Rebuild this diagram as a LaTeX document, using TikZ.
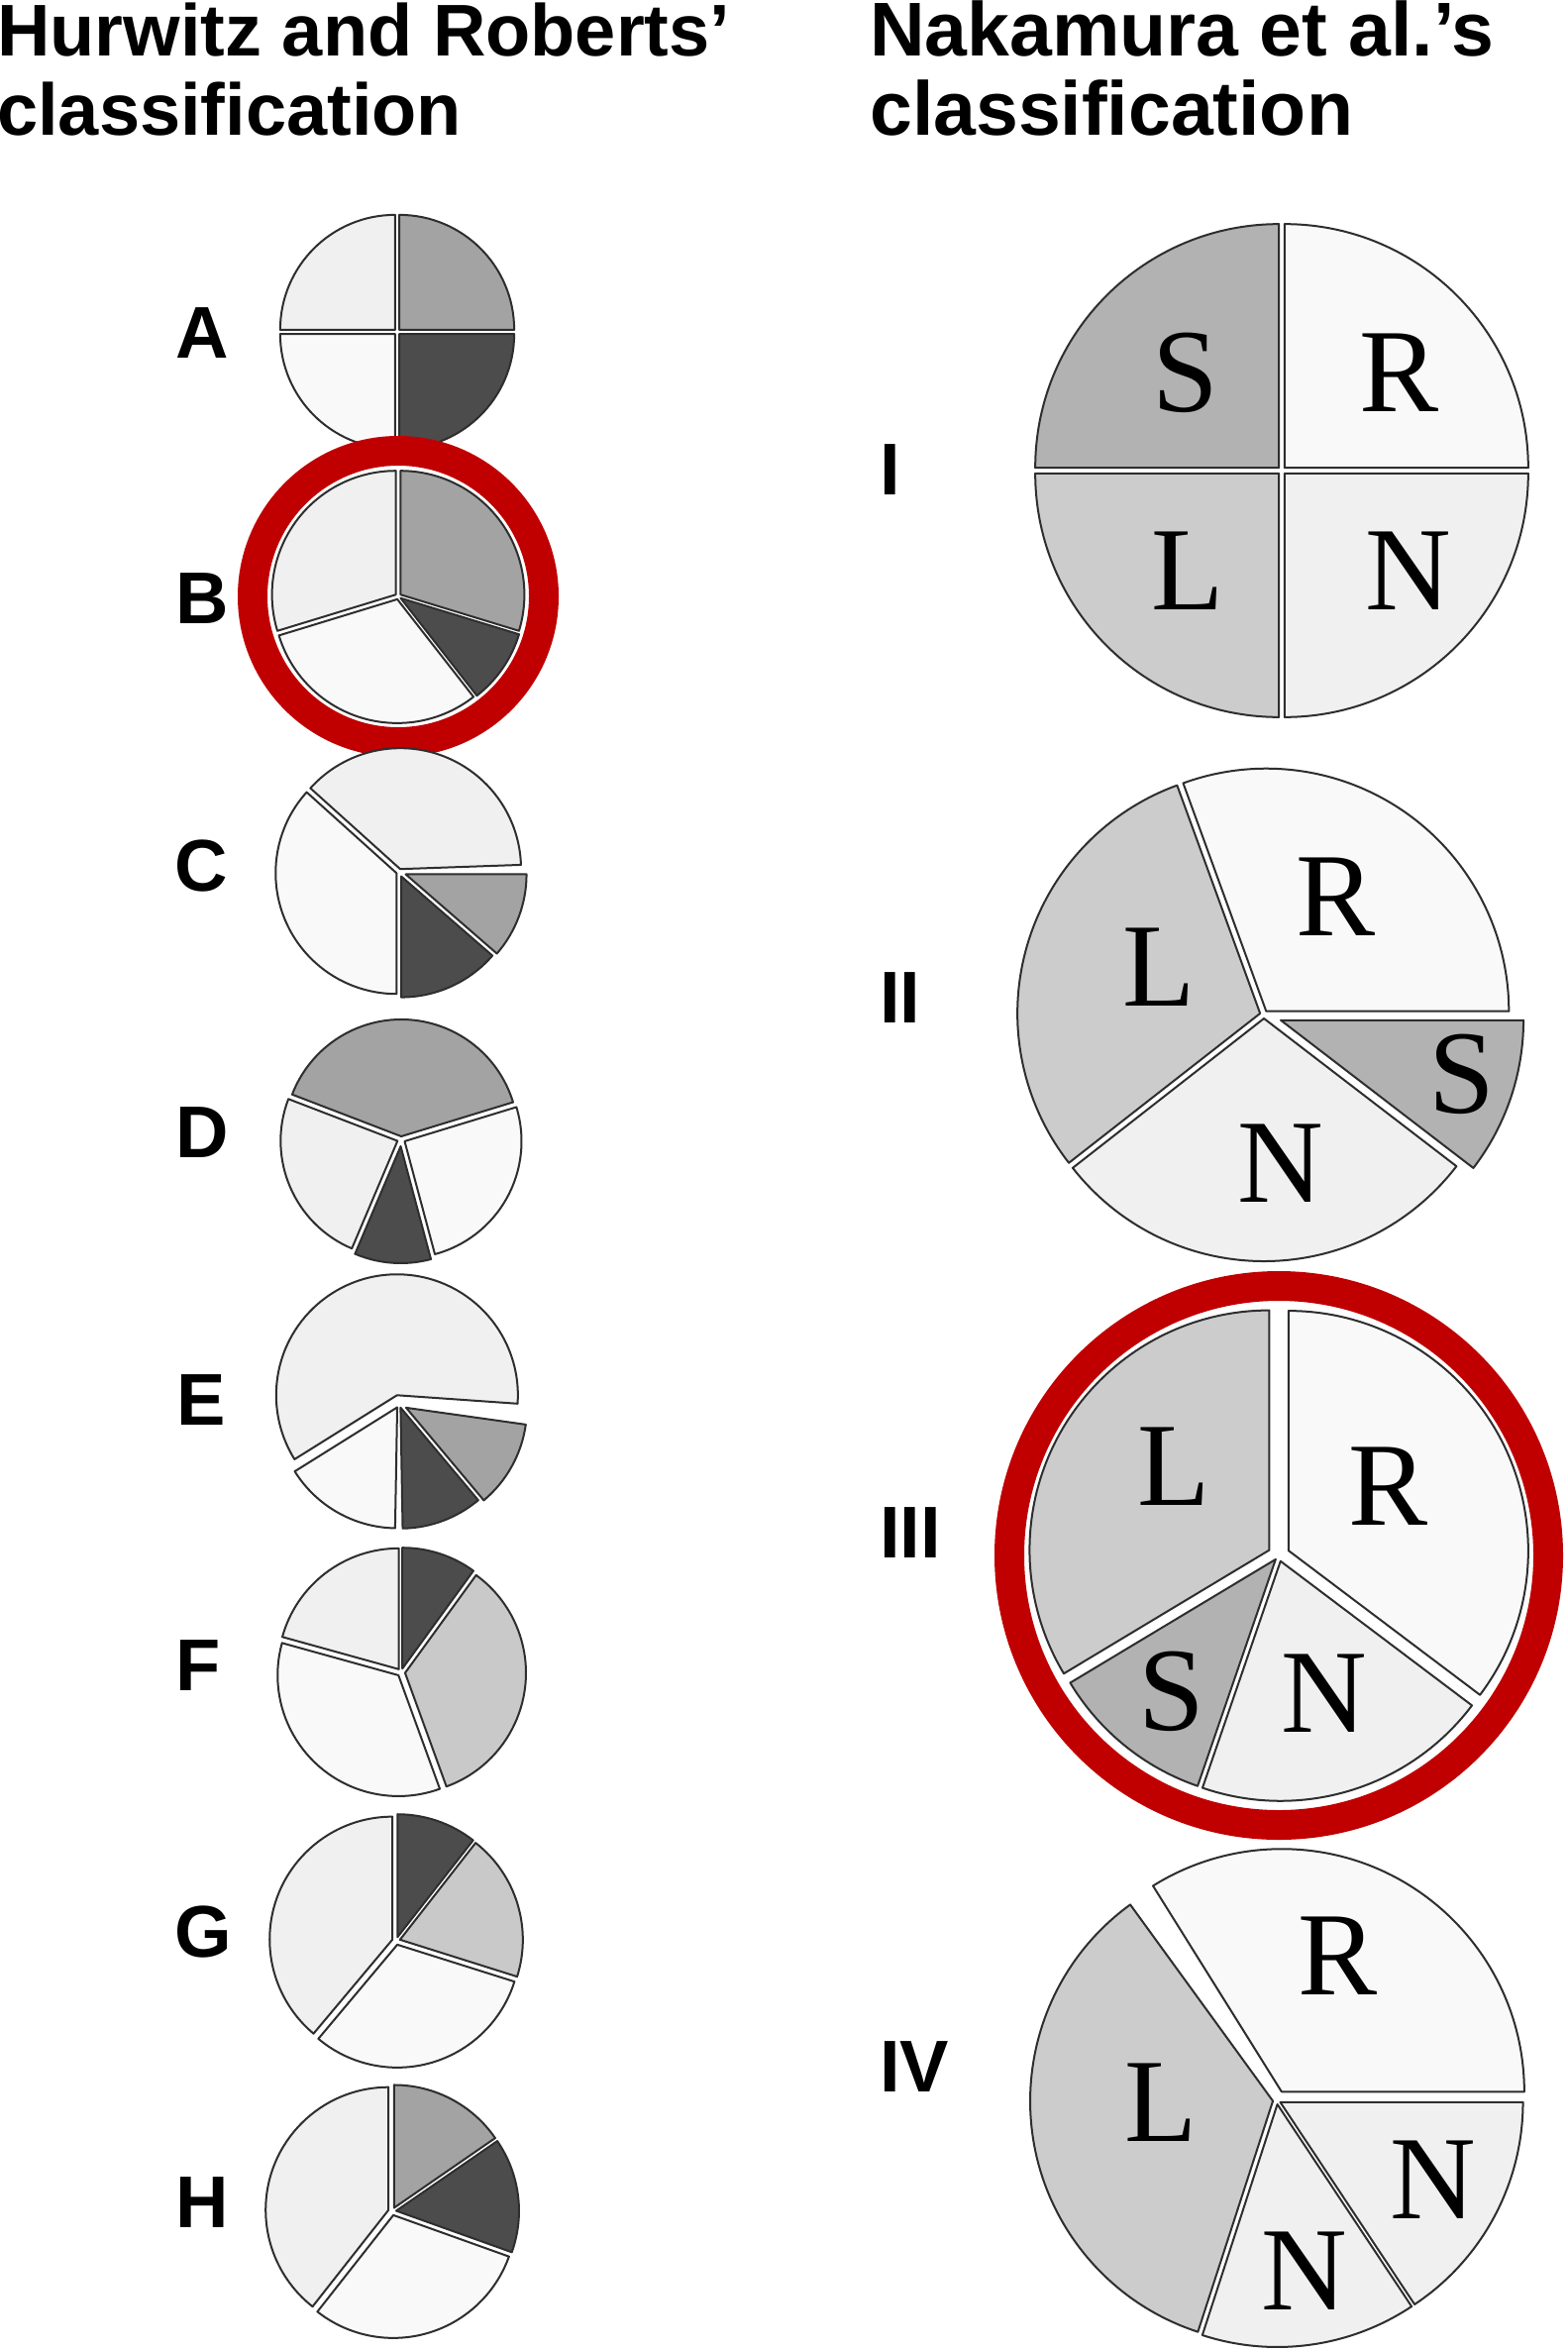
\documentclass[tikz,border=0pt]{standalone}
\usepackage{fontspec}
\setmainfont{Liberation Sans}
\newfontfamily\labelfont{Liberation Serif}
\usepackage{tikz}
\usetikzlibrary{positioning}

\definecolor{plight}{gray}{0.94}
\definecolor{pwhite}{gray}{0.975}
\definecolor{pmid}{gray}{0.64}
\definecolor{pdark}{gray}{0.30}
\definecolor{pgray}{gray}{0.79}
\definecolor{rS}{gray}{0.70}
\definecolor{rL}{gray}{0.80}
\definecolor{rR}{gray}{0.975}
\definecolor{rN}{gray}{0.94}
\definecolor{ringred}{RGB}{192,0,0}

\newcommand{\pieslice}[4][4]{%
  \draw[slice, fill=#4] ({(#2+#3)/2}:#1) -- ++(#2:\pierad)
    arc[start angle=#2, end angle=#3, radius=\pierad] -- cycle;}

\begin{document}
\begin{tikzpicture}[x=1pt, y=1pt,
    slice/.style={draw=black!82, line width=2pt, line join=round},
    ring/.style={draw=ringred, line width=30pt},
    heading/.style={anchor=base west, inner sep=0pt,
      font=\fontsize{74}{80}\selectfont\bfseries},
    tag/.style={inner sep=0pt, font=\fontsize{74}{80}\selectfont\bfseries},
    seg/.style={inner sep=0pt, font=\labelfont\fontsize{120}{120}\selectfont}
]
\path[fill=white] (0,0) rectangle (1582,-2373);
\useasboundingbox (0,0) rectangle (1582,-2373);

\node[heading] (hdrL1) at (-3,-57) {Hurwitz and Roberts’};
\node[heading] (hdrL2) at (-3,-137) {classification};
\node[heading, font=\fontsize{77}{80}\selectfont\bfseries] (hdrR1) at (878,-57) {Nakamura et al.’s};
\node[heading, font=\fontsize{77}{80}\selectfont\bfseries] (hdrR2) at (878,-137) {classification};

\node[tag] (tagA) at (204,-336) {A};
\node[tag] (tagB) at (204,-604) {B};
\node[tag] (tagC) at (203,-874) {C};
\node[tag] (tagD) at (204,-1143) {D};
\node[tag] (tagE) at (203,-1413) {E};
\node[tag] (tagF) at (200,-1681) {F};
\node[tag] (tagG) at (205,-1950) {G};
\node[tag] (tagH) at (204,-2223) {H};

\node[tag, anchor=west] (tagI) at (888,-474) {I};
\node[tag, anchor=west] (tagII) at (888,-1007) {II};
\node[tag, anchor=west] (tagIII) at (888,-1547) {III};
\node[tag, anchor=west] (tagIV) at (888,-2086) {IV};

\begin{scope}[shift={(401,-335)}]
\def\pierad{116}
\pieslice[3]{0}{90}{pmid}
\pieslice[3]{90}{180}{plight}
\pieslice[3]{180}{270}{pwhite}
\pieslice[3]{270}{360}{pdark}
\end{scope}

\begin{scope}[shift={(402,-602)}]
\def\pierad{125}
\pieslice[3]{-17}{90}{pmid}
\pieslice[3]{-52}{-17}{pdark}
\pieslice[3]{197}{308}{pwhite}
\pieslice[3]{90}{197}{plight}
\draw[ring] (0,0) circle[radius=147];
\end{scope}

\begin{scope}[shift={(403,-880)}]
\def\pierad{122}
\pieslice[3]{2}{138}{plight}
\pieslice[3]{138}{270}{pwhite}
\pieslice[5]{270}{319}{pdark}
\pieslice[7]{319}{360}{pmid}
\end{scope}

\begin{scope}[shift={(405,-1150)}]
\def\pierad{118}
\pieslice[3]{17}{159}{pmid}
\pieslice[4]{159}{247}{plight}
\pieslice[7]{247}{285}{pdark}
\pieslice[4]{285}{377}{pwhite}
\end{scope}

\begin{scope}[shift={(403,-1417)}]
\def\pierad{122}
\pieslice[9]{-4}{212}{plight}
\pieslice[4]{212}{269}{pwhite}
\pieslice[4]{271}{310}{pdark}
\pieslice[8]{310}{352}{pmid}
\end{scope}

\begin{scope}[shift={(405,-1688)}]
\def\pierad{122}
\pieslice[4]{54}{90}{pdark}
\pieslice[4]{-70}{54}{pgray}
\pieslice[4]{164.5}{290}{pwhite}
\pieslice[4]{90}{164.5}{plight}
\end{scope}

\begin{scope}[shift={(400,-1959)}]
\def\pierad{124}
\pieslice[4]{52}{90}{pdark}
\pieslice[4]{-17.5}{52}{pgray}
\pieslice[4]{230}{342.5}{pwhite}
\pieslice[4]{90}{230}{plight}
\end{scope}

\begin{scope}[shift={(396,-2232)}]
\def\pierad{124}
\pieslice[4]{34.6}{90}{pmid}
\pieslice[4]{-19.7}{34.6}{pdark}
\pieslice[4]{231.8}{340.3}{pwhite}
\pieslice[4]{90}{231.8}{plight}
\end{scope}

\begin{scope}[shift={(1294,-475)}]
\def\pierad{246}
\pieslice[4]{90}{180}{rS}
\pieslice[4]{0}{90}{rR}
\pieslice[4]{180}{270}{rL}
\pieslice[4]{270}{360}{rN}
\node[seg] (sI) at (-97,99) {S};
\node[seg] (rI) at (118,99) {R};
\node[seg] (lI) at (-95,-101) {L};
\node[seg] (nI) at (128,-101) {N};
\end{scope}

\begin{scope}[shift={(1276,-1024)}]
\def\pierad{245}
\pieslice[4]{0}{110}{rR}
\pieslice[4]{110}{218}{rL}
\pieslice[4]{218}{322.5}{rN}
\pieslice[18]{322.5}{360}{rS}
\node[seg] (rII) at (72,119) {R};
\node[seg] (lII) at (-106,48) {L};
\node[seg] (sII) at (200,-60) {S};
\node[seg] (nII) at (17,-150) {N};
\end{scope}

\begin{scope}[shift={(1291,-1570)}]
\def\pierad{242}
\pieslice[11]{90}{211}{rL}
\pieslice[5]{211}{251}{rS}
\pieslice[6]{251}{323}{rN}
\pieslice[11]{-37}{90}{rR}
\node[seg] (lIII) at (-106,90) {L};
\node[seg] (rIII) at (110,70) {R};
\node[seg] (sIII) at (-108,-137) {S};
\node[seg] (nIII) at (46,-139) {N};
\draw[ring] (0,0) circle[radius=272];
\end{scope}

\begin{scope}[shift={(1289,-2120)}]
\def\pierad{245}
\pieslice[10]{0}{122}{rR}
\pieslice[4]{126}{252}{rL}
\pieslice[4]{252}{303.6}{rN}
\pieslice[4]{303.6}{360}{rN}
\node[seg] (rIV) at (62,146) {R};
\node[seg] (lIV) at (-117,-2) {L};
\node[seg] (nIVa) at (158,-80) {N};
\node[seg] (nIVb) at (28,-172) {N};
\end{scope}
\end{tikzpicture}
\end{document}
